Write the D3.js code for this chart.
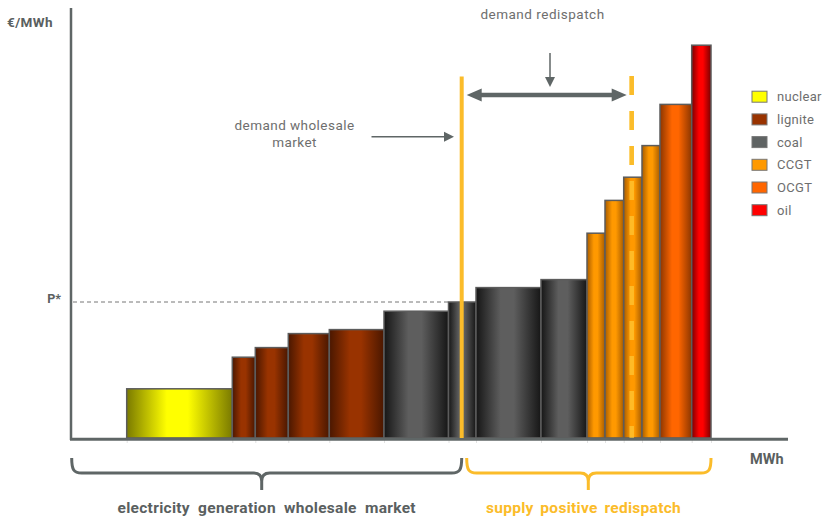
<!DOCTYPE html>
<html>
<head>
<meta charset="utf-8">
<script src="https://cdn.jsdelivr.net/npm/d3@7"></script>
<style>
  html, body { margin: 0; padding: 0; background: #fff; }
  svg { display: block; }
  text { font-family: Roboto, "DejaVu Sans", sans-serif; }
</style>
</head>
<body>
<div id="chart"></div>
<script>
// ---- data ----
const technologies = ["nuclear","lignite","lignite","lignite","lignite","coal","coal","coal","coal","CCGT","CCGT","CCGT","CCGT","OCGT","oil"];
const capacities = [105.6, 23, 33, 41, 54.7, 64.5, 27.5, 65, 46, 18, 18.7, 18.3, 18, 31.7, 19.3];
const prices = [12.3, 20.2, 22.6, 26.1, 27.1, 31.7, 34.0, 37.6, 39.6, 51.2, 59.4, 65.2, 73.1, 83.4, 98.2];
const capacityOffset = 55.7;
const demandWholesale = 390.7;
const demandRedispatch = 560.7;
const pStar = 34.0;
const legendLabels = ["nuclear", "lignite", "coal", "CCGT", "OCGT", "oil"];
const legendColors = ["#ffff00", "#993300", "#5f6363", "#ff9900", "#ff6600", "#ff0000"];
const gradientDark = ["#7a7a00", "#4a1700", "#161616", "#a85c00", "#8c3600", "#7a0000"];
const gradientLight = ["#ffff00", "#993300", "#5e5e5e", "#ff9900", "#ff6600", "#ff0000"];

// ---- layout ----
const W = 829, H = 518;
const svg = d3.select("#chart").append("svg").attr("width", W).attr("height", H);
const x = d3.scaleLinear().domain([0, 717]).range([71, 788]);
const y = d3.scaleLinear().domain([0, 100]).range([438, 38]);
const axisColor = "#5f6666";
const textGray = "#6e6e6e";
const orange = "#fbbc2a";

const defs = svg.append("defs");
legendLabels.forEach((t, i) => {
  const g = defs.append("linearGradient").attr("id", "grad-" + t).attr("x1", "0%").attr("x2", "100%").attr("y1", "0%").attr("y2", "0%");
  g.append("stop").attr("offset", "0%").attr("stop-color", gradientDark[i]);
  g.append("stop").attr("offset", "38%").attr("stop-color", gradientLight[i]);
  g.append("stop").attr("offset", "58%").attr("stop-color", gradientLight[i]);
  g.append("stop").attr("offset", "100%").attr("stop-color", gradientDark[i]);
});

// cumulative positions
const starts = [];
let acc = capacityOffset;
capacities.forEach(c => { starts.push(acc); acc += c; });
const bars = technologies.map((t, i) => ({ tech: t, x0: starts[i], x1: starts[i] + capacities[i], price: prices[i] }));

// light tick marks under axis at bar edges
const edges = [capacityOffset].concat(bars.map(b => b.x1));
const tickAxis = d3.axisBottom(x).tickValues(edges).tickSize(5).tickFormat("");
const tg = svg.append("g").attr("transform", "translate(0,438)").call(tickAxis);
tg.select(".domain").remove();
tg.selectAll(".tick line").attr("stroke", "#e2e2e2").attr("stroke-width", 1);

// P* dashed line
svg.append("line")
  .attr("x1", x(0) + 2).attr("x2", x(starts[6]))
  .attr("y1", y(pStar)).attr("y2", y(pStar))
  .attr("stroke", "#777").attr("stroke-width", 1).attr("stroke-dasharray", "4,3");

// bars
svg.append("g").selectAll("rect").data(bars).join("rect")
  .attr("x", d => x(d.x0))
  .attr("y", d => y(d.price))
  .attr("width", d => x(d.x1) - x(d.x0))
  .attr("height", d => y(0) - y(d.price))
  .attr("fill", d => `url(#grad-${d.tech})`)
  .attr("stroke", "#5c5c5c").attr("stroke-width", 1.5);

// axes
svg.append("line").attr("x1", x(0)).attr("x2", x(0)).attr("y1", 8).attr("y2", 440)
  .attr("stroke", axisColor).attr("stroke-width", 2.5);
svg.append("line").attr("x1", x(0) - 1).attr("x2", x(717)).attr("y1", 439.3).attr("y2", 439.3)
  .attr("stroke", axisColor).attr("stroke-width", 3);

// demand wholesale (solid)
svg.append("line").attr("x1", x(demandWholesale)).attr("x2", x(demandWholesale))
  .attr("y1", 76.5).attr("y2", 438).attr("stroke", orange).attr("stroke-width", 4);

// demand redispatch (dashed)
const redX = x(demandRedispatch);
const ccgt3Top = y(prices[11]);
defs.append("clipPath").attr("id", "above").append("rect").attr("x", 0).attr("y", 0).attr("width", W).attr("height", ccgt3Top);
svg.append("line").attr("x1", redX).attr("x2", redX).attr("y1", 76).attr("y2", 438)
  .attr("stroke", "#ffd040").attr("stroke-opacity", 0.6).attr("stroke-width", 4.5).attr("stroke-dasharray", "19,16");
svg.append("line").attr("x1", redX).attr("x2", redX).attr("y1", 76).attr("y2", 438)
  .attr("clip-path", "url(#above)")
  .attr("stroke", orange).attr("stroke-width", 4.5).attr("stroke-dasharray", "19,16");

// double arrow
const arrowY = 95;
const xa0 = x(demandWholesale) + 5, xa1 = redX - 5;
svg.append("line").attr("x1", xa0 + 10).attr("x2", xa1 - 10).attr("y1", arrowY).attr("y2", arrowY)
  .attr("stroke", axisColor).attr("stroke-width", 4.5);
svg.append("path").attr("d", `M${xa0},${arrowY} L${xa0 + 15},${arrowY - 6.5} L${xa0 + 15},${arrowY + 6.5} Z`).attr("fill", axisColor);
svg.append("path").attr("d", `M${xa1},${arrowY} L${xa1 - 15},${arrowY - 6.5} L${xa1 - 15},${arrowY + 6.5} Z`).attr("fill", axisColor);

// down arrow
const dax = 550;
svg.append("line").attr("x1", dax).attr("x2", dax).attr("y1", 53).attr("y2", 78).attr("stroke", axisColor).attr("stroke-width", 1.5);
svg.append("path").attr("d", `M${dax},87 L${dax - 5},77 L${dax + 5},77 Z`).attr("fill", axisColor);
svg.append("text").attr("x", 542.5).attr("y", 19).attr("text-anchor", "middle")
  .attr("font-size", 13.5).attr("letter-spacing", 0.5).attr("fill", textGray).text("demand redispatch");

// demand wholesale annotation
svg.append("text").attr("x", 294.5).attr("y", 130).attr("text-anchor", "middle")
  .attr("font-size", 13.5).attr("letter-spacing", 0.45).attr("fill", textGray).text("demand wholesale");
svg.append("text").attr("x", 294.5).attr("y", 146.5).attr("text-anchor", "middle")
  .attr("font-size", 13.5).attr("letter-spacing", 0.45).attr("fill", textGray).text("market");
svg.append("line").attr("x1", 371.5).attr("x2", 445).attr("y1", 136.7).attr("y2", 136.7).attr("stroke", axisColor).attr("stroke-width", 1.5);
svg.append("path").attr("d", `M454,136.7 L444,131.7 L444,141.7 Z`).attr("fill", axisColor);

// axis labels
svg.append("text").attr("x", 7).attr("y", 27).attr("font-size", 13.5).attr("letter-spacing", 0.4).attr("font-weight", "bold").attr("fill", "#5a6060").text("€/MWh");
svg.append("text").attr("x", 61).attr("y", 303).attr("text-anchor", "end").attr("font-size", 12.5).attr("font-weight", "bold").attr("fill", "#5a6060").text("P*");
svg.append("text").attr("x", 750).attr("y", 464).attr("font-size", 14.5).attr("font-weight", "bold").attr("fill", "#5a6060").text("MWh");

// braces
function brace(x0, x1, xc, color) {
  const yt = 458, yh = 473, yb = 490;
  const p = `M${x0},${yt} C${x0},${yh - 3} ${x0 + 2},${yh} ${x0 + 10},${yh} L${xc - 8},${yh} C${xc - 2},${yh} ${xc},${yh + 3} ${xc},${yh + 8} L${xc},${yb}` +
            ` M${xc},${yh + 8} C${xc},${yh + 3} ${xc + 2},${yh} ${xc + 8},${yh} L${x1 - 10},${yh} C${x1 - 2},${yh} ${x1},${yh - 3} ${x1},${yt}`;
  svg.append("path").attr("d", p).attr("fill", "none").attr("stroke", color).attr("stroke-width", 3);
}
brace(71.7, 461.7, 261.7, axisColor);
brace(466.7, 711, 588.3, orange);
svg.append("text").attr("x", 266.7).attr("y", 513).attr("text-anchor", "middle")
  .attr("font-size", 15.5).attr("font-weight", "bold").attr("fill", "#5a6060")
  .attr("letter-spacing", 0.3).attr("word-spacing", 4).text("electricity generation wholesale market");
svg.append("text").attr("x", 583.5).attr("y", 513).attr("text-anchor", "middle")
  .attr("font-size", 15.5).attr("font-weight", "bold").attr("fill", orange)
  .attr("letter-spacing", 0.3).attr("word-spacing", 2.5).text("supply positive redispatch");

// legend
const lg = svg.append("g");
legendLabels.forEach((t, i) => {
  const cy = 96.7 + i * 22.7;
  lg.append("rect").attr("x", 752).attr("y", cy - 5.5).attr("width", 15).attr("height", 11)
    .attr("fill", legendColors[i]).attr("stroke", "#777").attr("stroke-width", 1);
  lg.append("text").attr("x", 777).attr("y", cy + 4.5).attr("font-size", 13).attr("letter-spacing", 0.3).attr("fill", textGray).text(t);
});
</script>
</body>
</html>
